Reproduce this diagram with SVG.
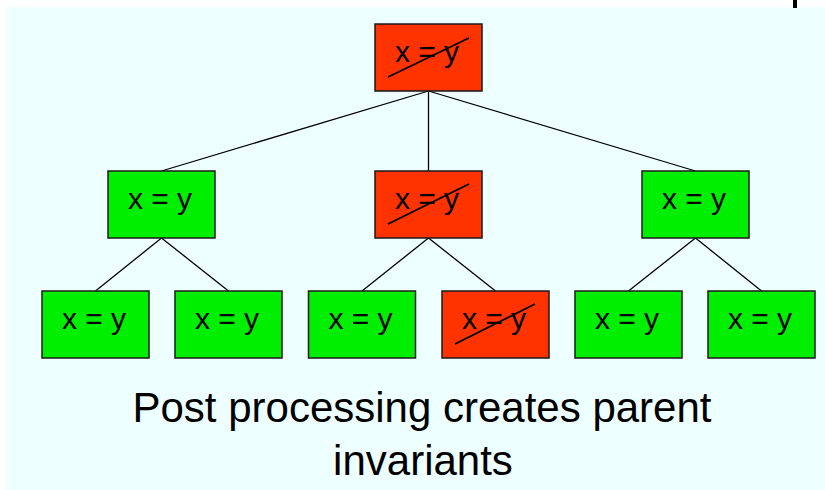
<svg xmlns="http://www.w3.org/2000/svg" width="825" height="490" viewBox="0 0 825 490">
<style>
.bg{fill:#EEFFFF}
.n rect{stroke:#1a1a1a;stroke-width:1.5}
.g rect{fill:#00EE00}
.r rect{fill:#FF3300}
.n text{font-family:"Liberation Sans",Arial,sans-serif;font-size:30px;fill:#000;text-anchor:middle}
.strike{stroke:#000;stroke-width:1.7}
#edges line{stroke:#000;stroke-width:1.3}
.cap{font-family:"Liberation Sans",Arial,sans-serif;font-size:42px;fill:#000;text-anchor:middle}
</style>
<rect x="0" y="0" width="825" height="490" fill="#fff"/>
<rect class="bg" x="6" y="7" width="819" height="483"/>
<rect x="793" y="0" width="4" height="8" fill="#000"/>
<g id="edges">
<line x1="428.5" y1="91" x2="161.5" y2="171"/>
<line x1="428.5" y1="91" x2="428.5" y2="171"/>
<line x1="428.5" y1="91" x2="695.5" y2="171"/>
<line x1="161.5" y1="238" x2="95.5" y2="291"/>
<line x1="161.5" y1="238" x2="228.5" y2="291"/>
<line x1="428.5" y1="238" x2="362" y2="291"/>
<line x1="428.5" y1="238" x2="495.5" y2="291"/>
<line x1="695.5" y1="238" x2="628.5" y2="291"/>
<line x1="695.5" y1="238" x2="761.5" y2="291"/>
</g>
<g id="root" class="n r"><rect x="375" y="24" width="107" height="67"/><text x="427" y="62">x = y</text><line class="strike" x1="388" y1="77" x2="469" y2="38"/></g>
<g id="mid-left" class="n g"><rect x="108" y="171" width="107" height="67"/><text x="160" y="209">x = y</text></g>
<g id="mid-center" class="n r"><rect x="375" y="171" width="107" height="67"/><text x="427" y="209">x = y</text><line class="strike" x1="388" y1="224" x2="469" y2="184"/></g>
<g id="mid-right" class="n g"><rect x="642" y="171" width="107" height="67"/><text x="694" y="209">x = y</text></g>
<g id="leaf1" class="n g"><rect x="42" y="291" width="107" height="67"/><text x="94" y="329">x = y</text></g>
<g id="leaf2" class="n g"><rect x="175" y="291" width="107" height="67"/><text x="227" y="329">x = y</text></g>
<g id="leaf3" class="n g"><rect x="308.5" y="291" width="107" height="67"/><text x="360.5" y="329">x = y</text></g>
<g id="leaf4" class="n r"><rect x="442" y="291" width="107" height="67"/><text x="494" y="329">x = y</text><line class="strike" x1="455" y1="344" x2="535" y2="304"/></g>
<g id="leaf5" class="n g"><rect x="575" y="291" width="107" height="67"/><text x="627" y="329">x = y</text></g>
<g id="leaf6" class="n g"><rect x="708" y="291" width="107" height="67"/><text x="760" y="329">x = y</text></g>
<text class="cap" x="422" y="422">Post processing creates parent</text>
<text class="cap" x="423" y="475">invariants</text>
</svg>
